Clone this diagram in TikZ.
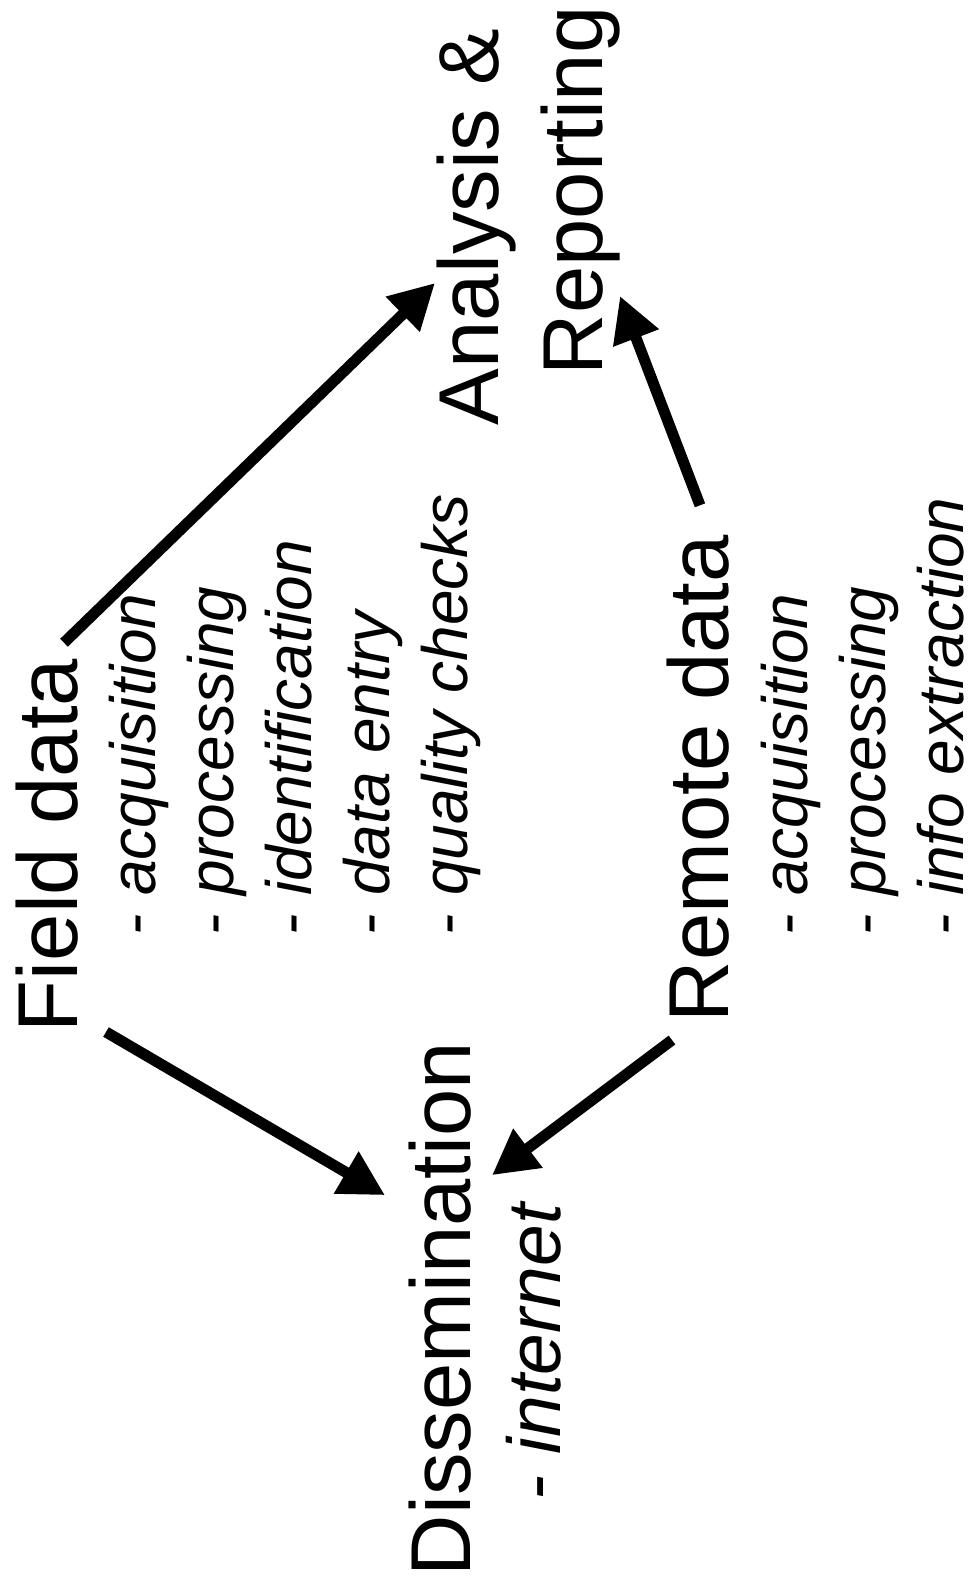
\documentclass[tikz,border=0pt]{standalone}
\usepackage{fontspec}
\setmainfont{Liberation Sans}
\usetikzlibrary{arrows.meta}
\tikzset{
	big/.style={font=\fontsize{85}{90}\selectfont, rotate=90, anchor=base west, inner sep=0pt, outer sep=0pt},
	sub/.style={font=\fontsize{64}{70}\selectfont\itshape, rotate=90, anchor=base west, inner sep=0pt, outer sep=0pt},
	flow/.style={line width=11pt, -{Triangle[length=45pt,width=46pt]}}
}
\begin{document}
\begin{tikzpicture}[x=1pt, y=-1pt]
					\useasboundingbox (0,0) rectangle (979,1583);
					% sources
					\node[big] (F)at(77, 1032) {Field data};
					\node[sub] (F1)at(155, 935) {- acquisition};
					\node[sub] (F2)at(233, 935) {- processing};
					\node[sub] (F3)at(311, 935) {- identification};
					\node[sub] (F4)at(389, 935) {- data entry};
					\node[sub] (F5)at(467, 935) {- quality checks};
					\node[big] (R)at(728, 1022) {Remote data};
					\node[sub] (R1)at(807, 935) {- acquisition};
					\node[sub] (R2)at(885, 935) {- processing};
					\node[sub] (R3)at(963, 935) {- info extraction};
					% targets
					\node[big] (A)at(498, 425) {Analysis \&};
					\node[big] (P)at(602, 375) {Reporting};
					\node[big] (D)at(470, 1576) {Dissemination};
					\node[sub, font=\fontsize{75}{80}\selectfont\itshape] (D1)at(560, 1500) {- internet};
					% arrows
					\draw[flow] ([shift={(-13,-16)}]F.base east) -- ([shift={(-63,-142)}]A.base west);
					\draw[flow] ([shift={(-28,-30)}]R.base east) -- ([shift={(18,-79)}]P.base west);
					\draw[flow] ([shift={(29,0)}]F.base west) -- ([shift={(-85,153)}]D.base east);
					\draw[flow] ([shift={(-56,18)}]R.base west) -- ([shift={(22,133)}]D.base east);
				\end{tikzpicture}
\end{document}
